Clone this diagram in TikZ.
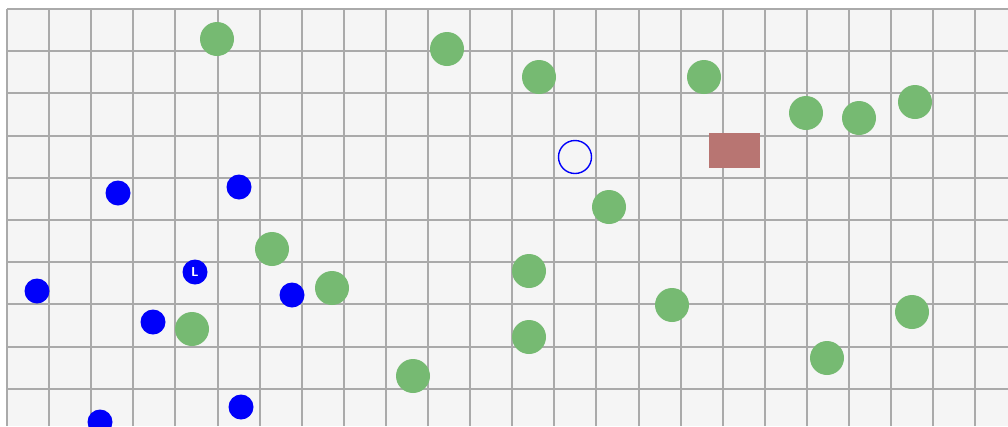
\documentclass[tikz,border=0pt]{standalone}
\usetikzlibrary{positioning}

\definecolor{foodgreen}{RGB}{118,186,114}
\definecolor{agentblue}{RGB}{0,0,250}
\definecolor{basered}{RGB}{184,117,114}
\definecolor{gridgray}{RGB}{170,170,170}
\definecolor{cellbg}{RGB}{245,245,245}

\begin{document}
\begin{tikzpicture}[
    x=1pt, y=-1pt,
    food/.style={circle, fill=foodgreen, inner sep=0pt, minimum size=34pt},
    agent/.style={circle, fill=agentblue, inner sep=0pt, minimum size=25pt},
    leader/.style={agent, text=white, font=\sffamily\bfseries\fontsize{13}{13}\selectfont},
    target/.style={circle, draw=agentblue, line width=1.4pt, inner sep=0pt, minimum size=33pt},
    base/.style={rectangle, fill=basered, inner sep=0pt, minimum width=51pt, minimum height=35pt},
    gridline/.style={draw=gridgray, line width=2pt}
]

\useasboundingbox (0,0) rectangle (1008,426);
\clip (0,0) rectangle (1008,426);

% Field
\fill[white] (0,0) rectangle (1008,426);
\fill[cellbg] (7,9) rectangle (1008,426);
\foreach \i in {0,...,23}
    \draw[gridline] ({7+42.1*\i},9) -- ({7+42.1*\i},426);
\foreach \j in {0,...,9}
    \draw[gridline] (7,{9+42.2*\j}) -- (1008,{9+42.2*\j});

% Food
\node (f1) [food] at (217,39) {};
\node (f2) [food] at (447,49) {};
\node (f3) [food] at (539,77) {};
\node (f4) [food] at (704,77) {};
\node (f5) [food] at (806,113) {};
\node (f6) [food] at (859,118) {};
\node (f7) [food] at (915,102) {};
\node (f8) [food] at (609,207) {};
\node (f9) [food] at (272,249) {};
\node (f10) [food] at (529,271) {};
\node (f11) [food] at (332,288) {};
\node (f12) [food] at (192,329) {};
\node (f13) [food] at (529,337) {};
\node (f14) [food] at (672,305) {};
\node (f15) [food] at (912,312) {};
\node (f16) [food] at (827,358) {};
\node (f17) [food] at (413,376) {};

% Base and target
\node (base) [base] at (734.5,150.5) {};
\node (target) [target] at (575,157) {};

% Agents
\node (lead) [leader] at (195,272) {L};
\node (a1) [agent] at (118,193) {};
\node (a2) [agent] at (239,187) {};
\node (a3) [agent] at (37,291) {};
\node (a4) [agent] at (292,295) {};
\node (a5) [agent] at (153,322) {};
\node (a6) [agent] at (241,407) {};
\node (a7) [agent] at (100,422) {};

\end{tikzpicture}
\end{document}
